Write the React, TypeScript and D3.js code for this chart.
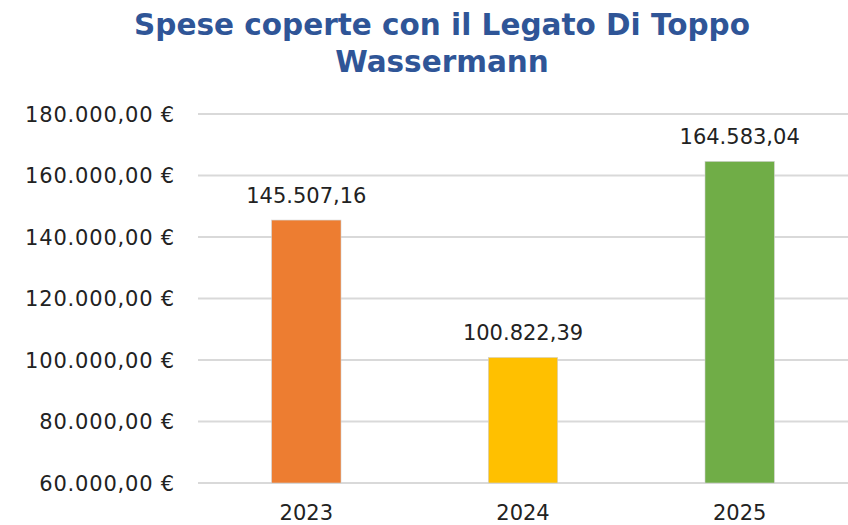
import React from "react";
import * as d3 from "d3";

const categories = ["2023", "2024", "2025"];
const values = [145507.16, 100822.39, 164583.04];
const colors = ["#ED7D31", "#FFC000", "#70AD47"];
const yTicks = [60000, 80000, 100000, 120000, 140000, 160000, 180000];
const titleLines = ["Spese coperte con il Legato Di Toppo", "Wassermann"];

const W = 848;
const H = 525;
const margin = { left: 198, right: 0, top: 114, bottom: 42 };

const fmt = (v: number) => {
  const [i, d] = v.toFixed(2).split(".");
  return i.replace(/\B(?=(\d{3})+(?!\d))/g, ".") + "," + d;
};

export default function App() {
  const x = d3
    .scaleBand<string>()
    .domain(categories)
    .range([margin.left, W - margin.right])
    .paddingInner(0.68)
    .paddingOuter(0.34);
  const y = d3
    .scaleLinear()
    .domain([60000, 180000])
    .range([H - margin.bottom, margin.top]);
  const font = "DejaVu Sans, sans-serif";
  return (
    <svg
      width={W}
      height={H}
      style={{ position: "absolute", left: 0, top: 0, background: "#fff" }}
      fontFamily={font}
    >
      {titleLines.map((t, i) => (
        <text
          key={i}
          x={442}
          y={35 + i * 37}
          textAnchor="middle"
          fontSize={29.5}
          fontWeight={700}
          fill="#2F5597"
        >
          {t}
        </text>
      ))}
      {yTicks.map((t) => (
        <g key={t}>
          <line
            x1={margin.left}
            x2={W - margin.right}
            y1={y(t)}
            y2={y(t)}
            stroke="#D9D9D9"
            strokeWidth={2}
          />
          <text
            x={175}
            y={y(t)}
            dy="0.36em"
            textAnchor="end"
            fontSize={21}
            letterSpacing={0.8}
            fill="#222"
          >
            {fmt(t)} €
          </text>
        </g>
      ))}
      {categories.map((c, i) => (
        <g key={c}>
          <rect
            x={x(c)}
            y={y(values[i])}
            width={x.bandwidth()}
            height={y(60000) - y(values[i])}
            fill={colors[i]}
            stroke="#D0D0D0"
            strokeWidth={0.6}
          />
          <text
            x={(x(c) as number) + x.bandwidth() / 2}
            y={y(values[i]) - 17}
            textAnchor="middle"
            fontSize={21}
            fill="#222"
          >
            {fmt(values[i])}
          </text>
          <text
            x={(x(c) as number) + x.bandwidth() / 2}
            y={520}
            textAnchor="middle"
            fontSize={21}
            fill="#222"
          >
            {c}
          </text>
        </g>
      ))}
    </svg>
  );
}
